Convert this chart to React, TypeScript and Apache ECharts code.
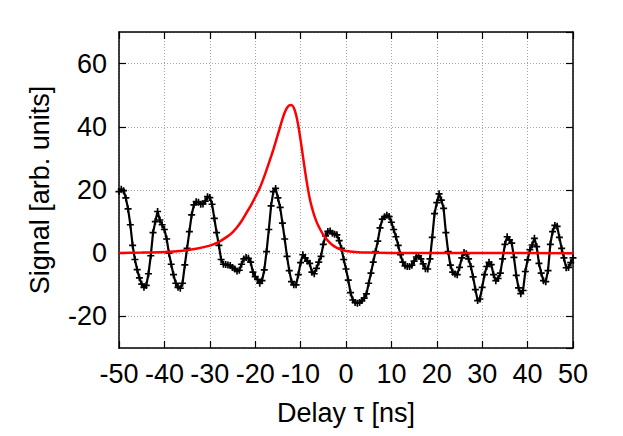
import React, { useEffect, useRef } from "react";
import * as echarts from "echarts";

// Delay axis (ns), sampled every 0.5 ns from -50 to 50
const delayStart = -50;
const delayStep = 0.5;
const signalValues: number[] = [
  19.5, 20.2, 19.8, 17.5, 14.0, 9.0, 2.5, -2.0, -5.2, -7.8,
  -9.8, -10.8, -10.2, -6.5, -0.8, 6.5, 10.0, 13.2, 10.5, 9.0,
  7.5, 4.5, 0.0, -3.5, -6.8, -9.5, -10.8, -11.1, -9.5, -3.7,
  1.5, 6.8, 12.1, 15.3, 16.3, 16.1, 15.5, 15.6, 16.5, 17.9,
  17.6, 15.5, 11.0, 6.5, 2.5, -2.0, -3.5, -3.6, -3.7, -3.9,
  -4.5, -5.0, -5.6, -5.4, -3.5, -1.8, -1.4, -1.6, -2.8, -6.0,
  -7.4, -8.3, -9.5, -8.7, -5.3, 0.5, 7.5, 15.0, 19.5, 20.5,
  17.5, 14.5, 9.5, 4.5, -1.0, -5.5, -9.0, -10.0, -10.0, -6.8,
  -3.0, -0.5, -1.5, -2.5, -3.2, -6.0, -6.5, -4.8, -2.8, -1.0,
  2.8, 5.5, 6.9, 7.0, 6.3, 6.0, 5.8, 4.0, 1.5, -2.0,
  -5.0, -8.5, -12.5, -14.8, -15.6, -15.8, -15.6, -15.0, -14.2, -12.9,
  -9.5, -6.3, -2.8, 0.5, 3.8, 8.0, 10.8, 11.5, 12.0, 11.6,
  9.8, 7.5, 5.2, 2.5, -0.5, -2.8, -4.0, -4.2, -4.2, -3.8,
  -2.5, -1.2, -0.8, -1.8, -3.4, -4.9, -5.0, -1.8, 5.0, 12.5,
  16.0, 18.8, 16.8, 14.2, 6.5, 0.5, -3.8, -6.0, -6.6, -6.8,
  -4.5, -1.5, 0.2, -0.2, -1.8, -4.2, -7.5, -11.5, -15.0, -14.5,
  -10.8, -6.8, -4.2, -2.9, -3.6, -6.8, -8.7, -8.0, -6.3, -1.8,
  2.8, 5.2, 4.2, 3.2, -1.3, -7.0, -11.0, -12.8, -11.8, -5.8,
  -2.1, 1.1, 2.6, 4.7, 2.1, -3.2, -6.3, -8.7, -9.0, -5.5,
  2.8, 6.8, 8.8, 8.5, 5.0, 1.5, -1.5, -4.6, -4.5, -3.0,
  -1.5,
];

// Fitted curve (red), read at irregular delays
const fitDelays: number[] = [
  -50, -45, -40, -36, -33, -30, -28, -26, -25, -24, -23, -22, -21, -20, -19, -18,
  -17, -16, -15, -14, -13.5, -13, -12.5, -12, -11.5, -11, -10.5, -10, -9.5, -9,
  -8.5, -8, -7.5, -7, -6.5, -6, -5, -4, -3, -2, -1, 0, 2, 5, 10, 20, 30, 50,
];
const fitValues: number[] = [
  0.1, 0.2, 0.4, 0.8, 1.4, 2.4, 3.6, 5.4, 6.6, 8.2, 10.2, 12.6, 15.0, 17.7, 20.6, 24.3,
  28.5, 32.8, 37.6, 42.4, 44.5, 46.0, 46.8, 46.9, 46.0, 43.8, 40.3, 35.8, 30.8, 25.8,
  21.3, 17.4, 14.4, 12.0, 10.0, 8.4, 5.8, 4.0, 2.6, 1.7, 1.1, 0.7, 0.4, 0.2, 0.1, 0.05, 0.03, 0.02,
];

const xTicks = { min: -50, max: 50, interval: 10 };
const yRange = { min: -30, max: 70 };

const FONT = "'Liberation Sans', Arial, Helvetica, sans-serif";
const FS = 27;

export default function App() {
  const ref = useRef<HTMLDivElement>(null);
  useEffect(() => {
    if (!ref.current) return;
    const chart = echarts.init(ref.current, undefined, { renderer: "svg" });
    const signalData = signalValues.map((v, i) => [delayStart + i * delayStep, v]);
    const fitData = fitDelays.map((d, i) => [d, fitValues[i]]);
    const gridLine = { show: true, lineStyle: { color: "#a8a8a8", type: [1, 2] as any, width: 1 } };
    const axisLine = { show: true, onZero: false, lineStyle: { color: "#000", width: 1.5 } };
    const tickIn = { show: true, inside: true, length: 7, lineStyle: { color: "#000", width: 1.2 } };
    const plus = "path://M-1.2,-5 L1.2,-5 L1.2,-1.2 L5,-1.2 L5,1.2 L1.2,1.2 L1.2,5 L-1.2,5 L-1.2,1.2 L-5,1.2 L-5,-1.2 L-1.2,-1.2 Z";
    chart.setOption({
      animation: false,
      backgroundColor: "#fff",
      textStyle: { fontFamily: FONT },
      grid: { left: 119, right: 50, top: 32, bottom: 88, containLabel: false },
      xAxis: [
        {
          type: "value",
          min: xTicks.min,
          max: xTicks.max,
          interval: xTicks.interval,
          position: "bottom",
          name: "Delay τ [ns]",
          nameLocation: "middle",
          nameGap: 51,
          nameTextStyle: { fontSize: FS, color: "#000", fontFamily: FONT },
          axisLine,
          axisTick: tickIn,
          splitLine: gridLine,
          axisLabel: { fontSize: FS, color: "#000", margin: 12, fontFamily: FONT },
        },
        {
          type: "value",
          min: xTicks.min,
          max: xTicks.max,
          interval: xTicks.interval,
          position: "top",
          axisLine,
          axisTick: tickIn,
          splitLine: { show: false },
          axisLabel: { show: false },
        },
      ],
      yAxis: [
        {
          type: "value",
          min: yRange.min,
          max: yRange.max,
          splitNumber: 5,
          position: "left",
          name: "Signal [arb. units]",
          nameLocation: "middle",
          nameGap: 66,
          nameTextStyle: { fontSize: FS, color: "#000", fontFamily: FONT },
          axisLine,
          axisTick: tickIn,
          splitLine: gridLine,
          axisLabel: {
            fontSize: FS,
            color: "#000",
            margin: 12,
            fontFamily: FONT,
            showMinLabel: false,
            showMaxLabel: false,
          },
        },
        {
          type: "value",
          min: yRange.min,
          max: yRange.max,
          splitNumber: 5,
          position: "right",
          axisLine,
          axisTick: tickIn,
          splitLine: { show: false },
          axisLabel: { show: false },
        },
      ],
      series: [
        {
          type: "line",
          data: signalData,
          xAxisIndex: 0,
          yAxisIndex: 0,
          lineStyle: { color: "#000", width: 2.2 },
          itemStyle: { color: "#000" },
          symbol: plus,
          symbolSize: 7,
          showSymbol: true,
          showAllSymbol: true,
          z: 2,
        },
        {
          type: "line",
          data: fitData,
          xAxisIndex: 0,
          yAxisIndex: 0,
          smooth: 0.3,
          lineStyle: { color: "#ff0000", width: 2.5 },
          symbol: "none",
          z: 3,
        },
      ],
    });
    return () => chart.dispose();
  }, []);
  return <div ref={ref} style={{ width: 623, height: 436, position: "absolute", left: 0, top: 0 }} />;
}
